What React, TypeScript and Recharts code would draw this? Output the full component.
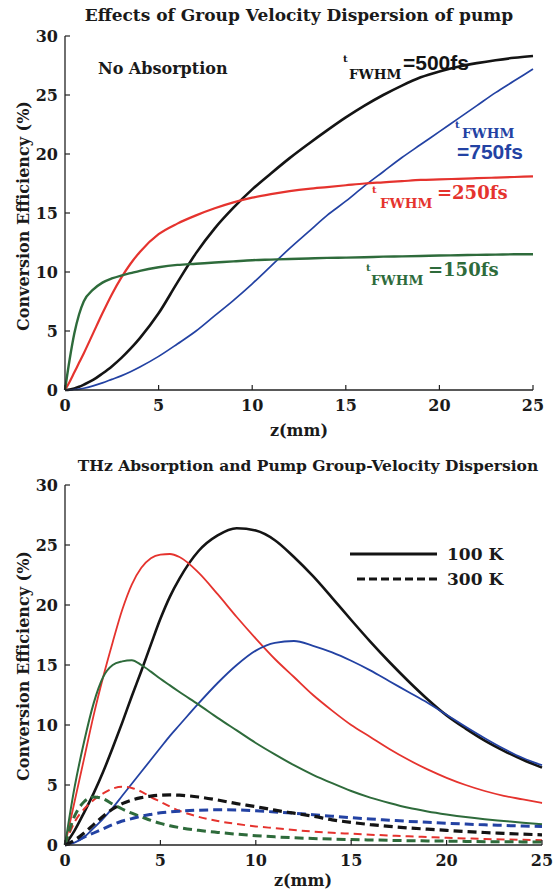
import React from 'react';
import { LineChart, Line, XAxis, YAxis } from 'recharts';

// crystal length z (mm), top panel: no THz absorption
const topZ = [0, 0.25, 0.5, 0.75, 1, 1.5, 2, 2.5, 3, 3.5, 4, 5, 6, 7, 8, 9, 10, 11, 12, 13, 14, 15, 16, 17, 18, 19, 20, 21, 22, 23, 24, 25];
const eff150 = [0, 2.6, 4.8, 6.4, 7.5, 8.5, 9.1, 9.45, 9.7, 9.9, 10.1, 10.4, 10.6, 10.7, 10.8, 10.9, 11.0, 11.05, 11.1, 11.15, 11.2, 11.22, 11.25, 11.3, 11.32, 11.35, 11.4, 11.42, 11.45, 11.47, 11.5, 11.5];
const eff250 = [0, 0.7, 1.5, 2.3, 3.1, 4.8, 6.5, 8.1, 9.5, 10.7, 11.7, 13.2, 14.1, 14.8, 15.4, 15.9, 16.3, 16.6, 16.85, 17.05, 17.2, 17.35, 17.5, 17.6, 17.7, 17.8, 17.85, 17.9, 17.95, 18.0, 18.05, 18.1];
const eff500 = [0, 0.03, 0.12, 0.27, 0.45, 0.85, 1.4, 2.0, 2.7, 3.5, 4.4, 6.5, 9.1, 11.6, 13.7, 15.45, 17.0, 18.35, 19.65, 20.85, 22.0, 23.1, 24.1, 25.0, 25.8, 26.5, 27.0, 27.4, 27.7, 27.95, 28.15, 28.3];
const eff750 = [0, 0.01, 0.04, 0.08, 0.15, 0.35, 0.6, 0.9, 1.2, 1.55, 1.95, 2.85, 3.9, 5.0, 6.3, 7.6, 9.0, 10.5, 12.0, 13.4, 14.8, 16.0, 17.3, 18.5, 19.7, 20.8, 21.9, 23.0, 24.1, 25.2, 26.2, 27.2];

// bottom panel: with THz absorption, 100 K (solid) and 300 K (dashed)
const botZ = [0, 0.5, 1, 1.5, 2, 2.5, 3, 3.5, 4, 4.5, 5, 5.5, 6, 7, 8, 9, 10, 11, 12, 13, 14, 15, 16, 17, 18, 19, 20, 21, 22, 23, 24, 25];
const cold150 = [0, 4.8, 8.6, 11.8, 14.0, 15.0, 15.3, 15.4, 15.0, 14.45, 13.85, 13.3, 12.75, 11.7, 10.6, 9.55, 8.5, 7.55, 6.65, 5.85, 5.15, 4.5, 3.95, 3.5, 3.1, 2.8, 2.55, 2.33, 2.15, 2.0, 1.85, 1.72];
const cold250 = [0, 3.6, 7.2, 10.8, 14.0, 16.9, 19.6, 21.7, 23.1, 23.9, 24.2, 24.25, 24.0, 22.7, 20.9, 19.0, 17.2, 15.5, 14.0, 12.5, 11.2, 10.0, 9.0, 8.0, 7.1, 6.3, 5.6, 5.0, 4.5, 4.1, 3.8, 3.5];
const cold500 = [0, 1.2, 2.7, 4.3, 6.1, 8.1, 10.2, 12.4, 14.5, 16.7, 18.85, 20.7, 22.2, 24.5, 25.8, 26.4, 26.2, 25.4, 24.0, 22.4, 20.6, 18.75, 16.95, 15.25, 13.65, 12.15, 10.8, 9.7, 8.7, 7.85, 7.1, 6.45];
const cold750 = [0, 0.2, 0.65, 1.4, 2.2, 3.1, 4.1, 5.1, 6.1, 7.1, 8.1, 9.1, 10.0, 11.8, 13.5, 15.0, 16.2, 16.85, 17.0, 16.6, 16.05, 15.35, 14.55, 13.65, 12.75, 11.85, 10.85, 9.85, 8.9, 8.02, 7.25, 6.65];
const warm150 = [0, 2.4, 3.6, 4.0, 3.85, 3.4, 3.0, 2.65, 2.35, 2.05, 1.8, 1.6, 1.45, 1.22, 1.05, 0.9, 0.78, 0.68, 0.6, 0.54, 0.49, 0.45, 0.42, 0.39, 0.36, 0.34, 0.32, 0.3, 0.28, 0.27, 0.26, 0.25];
const warm250 = [0, 1.9, 3.0, 3.75, 4.3, 4.7, 4.85, 4.75, 4.45, 4.0, 3.6, 3.2, 2.85, 2.35, 2.0, 1.75, 1.55, 1.4, 1.25, 1.12, 1.02, 0.94, 0.86, 0.79, 0.72, 0.66, 0.6, 0.55, 0.5, 0.46, 0.43, 0.4];
const warm500 = [0, 0.4, 1.0, 1.7, 2.4, 3.0, 3.45, 3.75, 3.95, 4.08, 4.15, 4.17, 4.15, 4.0, 3.75, 3.45, 3.2, 2.9, 2.65, 2.4, 2.1, 1.88, 1.7, 1.55, 1.42, 1.32, 1.22, 1.12, 1.04, 0.97, 0.9, 0.85];
const warm750 = [0, 0.3, 0.65, 1.0, 1.35, 1.7, 2.0, 2.2, 2.4, 2.55, 2.68, 2.76, 2.82, 2.9, 2.93, 2.92, 2.85, 2.75, 2.65, 2.52, 2.4, 2.28, 2.17, 2.07, 1.97, 1.89, 1.81, 1.74, 1.68, 1.63, 1.58, 1.55];

const zTicks = [0, 5, 10, 15, 20, 25];
const effTicks = [0, 5, 10, 15, 20, 25, 30];

const topRows = topZ.map((z, i) => ({ z, f150: eff150[i], f250: eff250[i], f500: eff500[i], f750: eff750[i] }));
const botRows = botZ.map((z, i) => ({
  z,
  c150: cold150[i], c250: cold250[i], c500: cold500[i], c750: cold750[i],
  w150: warm150[i], w250: warm250[i], w500: warm500[i], w750: warm750[i],
}));

const SERIF = '"DejaVu Serif", serif';
const SANS = '"Liberation Sans", Arial, sans-serif';
const INK = '#1a1a1a';
const BLACK = '#141414';
const RED = '#e5332e';
const BLUE = '#2342a3';
const GREEN = '#2e6b3b';

const axisLine = { stroke: '#222', strokeWidth: 1.3 };
const tickLine = { stroke: '#222', strokeWidth: 1.2 };
const tickFont = { fill: INK, fontSize: 16, fontWeight: 700, fontFamily: SERIF };

// box frame: inward ticks on all four sides, labels only bottom/left
function axes() {
  return [
    <XAxis key="xb" xAxisId="b" dataKey="z" type="number" domain={[0, 25]} ticks={zTicks} interval={0}
      tickSize={-5} tickMargin={15} axisLine={axisLine} tickLine={tickLine} tick={tickFont} height={40} />,
    <XAxis key="xt" xAxisId="t" orientation="top" dataKey="z" type="number" domain={[0, 25]} ticks={zTicks} interval={0}
      tickSize={-5} axisLine={axisLine} tickLine={tickLine} tick={false} height={0} />,
    <YAxis key="yl" yAxisId="l" type="number" domain={[0, 30]} ticks={effTicks} interval={0}
      tickSize={-5} tickMargin={12} axisLine={axisLine} tickLine={tickLine} tick={tickFont} width={65} />,
    <YAxis key="yr" yAxisId="r" orientation="right" type="number" domain={[0, 30]} ticks={effTicks} interval={0}
      tickSize={-5} axisLine={axisLine} tickLine={tickLine} tick={false} width={0} />,
  ];
}

function curve(key: string, color: string, width: number, dash?: string) {
  return (
    <Line key={key} xAxisId="b" yAxisId="l" type="monotone" dataKey={key} stroke={color} strokeWidth={width}
      strokeDasharray={dash} dot={false} isAnimationActive={false} />
  );
}

function YTitle({ x, y }: { x: number; y: number }) {
  return (
    <text x={x} y={y} transform={`rotate(-90 ${x} ${y})`} textAnchor="middle" dominantBaseline="central"
      fontFamily={SERIF} fontWeight={700} fontSize={16} fill={INK}>
      Conversion Efficiency (%)
    </text>
  );
}

function Tag({ tx, ty, fx, fy, vx, vy, value, color, font, size }: any) {
  return (
    <g fill={color} fontWeight={700}>
      <text x={tx} y={ty} fontSize={10} fontFamily={SERIF}>t</text>
      <text x={fx} y={fy} fontSize={13.5} fontFamily={SERIF}>FWHM</text>
      <text x={vx} y={vy} fontSize={size} fontFamily={font}>{value}</text>
    </g>
  );
}

export default function App() {
  return (
    <div style={{ position: 'absolute', left: 0, top: 0, width: 553, height: 893, background: '#fff' }}>
      <div style={{ position: 'absolute', left: 0, top: 0 }}>
        <LineChart width={553} height={445} data={topRows} margin={{ top: 36, right: 20, bottom: 15, left: 0 }}>
          {axes()}
          {curve('f500', BLACK, 2.6)}
          {curve('f750', BLUE, 1.7)}
          {curve('f250', RED, 2.2)}
          {curve('f150', GREEN, 2.4)}
        </LineChart>
      </div>
      <div style={{ position: 'absolute', left: 0, top: 440 }}>
        <LineChart width={553} height={453} data={botRows} margin={{ top: 45, right: 11, bottom: 8, left: 0 }}>
          {axes()}
          {curve('c500', BLACK, 2.6)}
          {curve('c250', RED, 1.8)}
          {curve('c750', BLUE, 1.8)}
          {curve('c150', GREEN, 2.0)}
          {curve('w250', RED, 2.0, '8 5')}
          {curve('w150', GREEN, 3.0, '9 5')}
          {curve('w750', BLUE, 3.0, '9 5')}
          {curve('w500', BLACK, 3.2, '9 5')}
        </LineChart>
      </div>
      <svg width={553} height={893} style={{ position: 'absolute', left: 0, top: 0, pointerEvents: 'none' }}>
        <text x={299} y={15} textAnchor="middle" dominantBaseline="central" fontFamily={SERIF} fontWeight={700}
          fontSize={17} fill={INK}>
          Effects of Group Velocity Dispersion of pump
        </text>
        <YTitle x={23} y={216} />
        <text x={299} y={430} textAnchor="middle" dominantBaseline="central" fontFamily={SERIF} fontWeight={700}
          fontSize={16} fill={INK}>
          z(mm)
        </text>
        <text x={98} y={74} fontFamily={SERIF} fontWeight={700} fontSize={16} fill={INK}>No Absorption</text>
        <Tag tx={343} ty={62} fx={349} fy={79} vx={403} vy={70} value="=500fs" color={BLACK} font={SANS} size={21} />
        <Tag tx={455} ty={128} fx={462} fy={138} vx={457} vy={159} value="=750fs" color={BLUE} font={SANS} size={21} />
        <Tag tx={372} ty={193} fx={380} fy={208} vx={437} vy={199} value="=250fs" color={RED} font={SERIF} size={18} />
        <Tag tx={366} ty={271} fx={371} fy={285} vx={428} vy={276} value="=150fs" color={GREEN} font={SERIF} size={18} />

        <text x={308} y={465} textAnchor="middle" dominantBaseline="central" fontFamily={SERIF} fontWeight={700}
          fontSize={15.5} fill={INK}>
          THz Absorption and Pump Group-Velocity Dispersion
        </text>
        <YTitle x={23} y={666} />
        <text x={303} y={880} textAnchor="middle" dominantBaseline="central" fontFamily={SERIF} fontWeight={700}
          fontSize={16} fill={INK}>
          z(mm)
        </text>
        <line x1={350} x2={437} y1={554} y2={554} stroke={BLACK} strokeWidth={3} />
        <text x={447} y={554} dominantBaseline="central" fontFamily={SERIF} fontWeight={700} fontSize={17} fill={INK}>100 K</text>
        <line x1={357} x2={437} y1={579} y2={579} stroke={BLACK} strokeWidth={3} strokeDasharray="8 4" />
        <text x={447} y={579} dominantBaseline="central" fontFamily={SERIF} fontWeight={700} fontSize={17} fill={INK}>300 K</text>
      </svg>
    </div>
  );
}
